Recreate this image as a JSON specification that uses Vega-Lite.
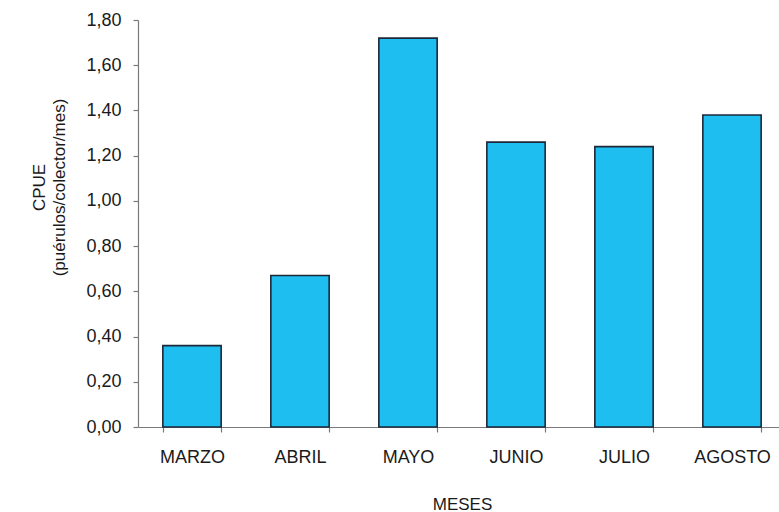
{
  "$schema": "https://vega.github.io/schema/vega-lite/v6.json",
  "autosize": "none",
  "width": 641,
  "height": 407,
  "padding": {"left": 138, "top": 20, "right": 0, "bottom": 85},
  "background": "white",
  "config": {
    "view": {"stroke": null},
    "font": "Liberation Sans",
    "axis": {"grid": false, "domainColor": "#7a7a7a", "tickColor": "#7a7a7a", "labelColor": "#1a1a1a", "titleColor": "#1a1a1a", "titleFontWeight": "normal", "domainWidth": 1.2, "tickWidth": 1.2}
  },
  "data": {
    "values": [
      {"mes": "MARZO", "cpue": 0.36},
      {"mes": "ABRIL", "cpue": 0.67},
      {"mes": "MAYO", "cpue": 1.72},
      {"mes": "JUNIO", "cpue": 1.26},
      {"mes": "JULIO", "cpue": 1.24},
      {"mes": "AGOSTO", "cpue": 1.38}
    ]
  },
  "mark": {"type": "bar", "fill": "#1EBFF0", "stroke": "#1c2838", "strokeWidth": 1.6},
  "encoding": {
    "x": {
      "field": "mes", "type": "nominal", "sort": null,
      "scale": {"range": [0, 648], "paddingInner": 0.46, "paddingOuter": 0.23},
      "axis": {"title": "MESES", "labelAngle": 0, "tickBand": "extent", "tickSize": 5, "labelPadding": 16, "labelFontSize": 18, "titleFontSize": 17, "titlePadding": 30}
    },
    "y": {
      "field": "cpue", "type": "quantitative",
      "scale": {"domain": [0, 1.8]},
      "axis": {
        "title": ["CPUE", "(puérulos/colector/mes)"],
        "values": [0, 0.2, 0.4, 0.6, 0.8, 1.0, 1.2, 1.4, 1.6, 1.8],
        "labelExpr": "replace(format(datum.value, '.2f'), '.', ',')",
        "tickSize": 5, "labelPadding": 12, "labelFontSize": 18,
        "titleFontSize": 17, "titleLineHeight": 20, "titlePadding": 17, "titleY": 167
      }
    }
  }
}
